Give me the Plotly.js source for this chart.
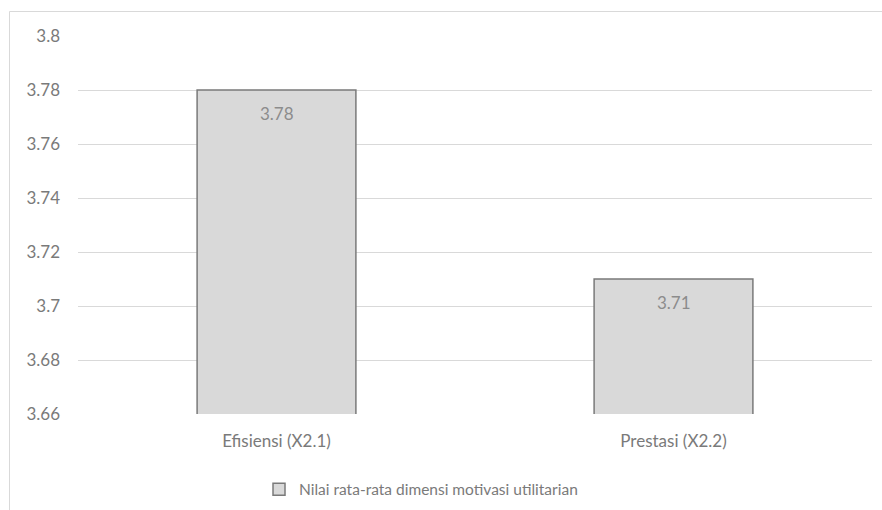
<!DOCTYPE html>
<html>
<head>
<meta charset="utf-8">
<script src="https://cdn.plot.ly/plotly-3.0.1.min.js"></script>
<style>html,body{margin:0;padding:0;background:#fff;}#chart{width:882px;height:510px;}</style>
</head>
<body>
<div id="chart"></div>
<script>
const categories = ["Efisiensi (X2.1)", "Prestasi (X2.2)"];
const values = [3.78, 3.71];
const labels = ["3.78", "3.71"];
const seriesName = "Nilai rata-rata dimensi motivasi utilitarian";
const yTicks = [3.66, 3.68, 3.7, 3.72, 3.74, 3.76, 3.78, 3.8];
const yTickText = ["3.66", "3.68", "3.7", "3.72", "3.74", "3.76", "3.78", "3.8"];

const font = "Lato, 'Open Sans', sans-serif";
const textColor = "#7a7a7a";

const trace = {
  type: "bar",
  x: categories,
  y: values,
  name: seriesName,
  marker: {color: "#d9d9d9", line: {color: "#7a7a7a", width: 1.5}},
  showlegend: true,
  hoverinfo: "x+y"
};

const annotations = categories.map((c, i) => ({
  x: c,
  y: values[i],
  xref: "x",
  yref: "y",
  text: labels[i],
  showarrow: false,
  yanchor: "middle",
  yshift: -23,
  font: {family: font, size: 17, color: "#8c8c8c"}
}));

const layout = {
  width: 882,
  height: 510,
  margin: {l: 78, r: 10, t: 36, b: 96, autoexpand: false},
  paper_bgcolor: "#ffffff",
  plot_bgcolor: "#ffffff",
  bargap: 0.6,
  font: {family: font, size: 17, color: textColor},
  xaxis: {
    showgrid: false,
    showline: false,
    ticks: "",
    ticklabelstandoff: 15,
    automargin: false,
    tickfont: {family: font, size: 17, color: textColor}
  },
  yaxis: {
    range: [3.66, 3.8],
    tickmode: "array",
    tickvals: yTicks,
    ticktext: yTickText,
    showgrid: true,
    gridcolor: "#d9d9d9",
    gridwidth: 1,
    zeroline: false,
    showline: false,
    ticks: "",
    automargin: false,
    ticklabelstandoff: 17,
    tickfont: {family: font, size: 17, color: textColor}
  },
  showlegend: true,
  legend: {
    orientation: "h",
    x: 0.432,
    xanchor: "center",
    y: -0.155,
    yanchor: "top",
    font: {family: font, size: 15.5, color: textColor},
    itemwidth: 30
  },
  annotations: annotations,
  shapes: [{
    type: "rect",
    xref: "paper", yref: "paper",
    x0: (9.5 - 78) / 794, x1: (900 - 78) / 794,
    y0: (414 - 530) / 378, y1: (414 - 11.5) / 378,
    line: {color: "#d9d9d9", width: 1},
    fillcolor: "rgba(0,0,0,0)",
    layer: "below"
  }]
};

Plotly.newPlot("chart", [trace], layout, {displayModeBar: false, staticPlot: true});
</script>
</body>
</html>
